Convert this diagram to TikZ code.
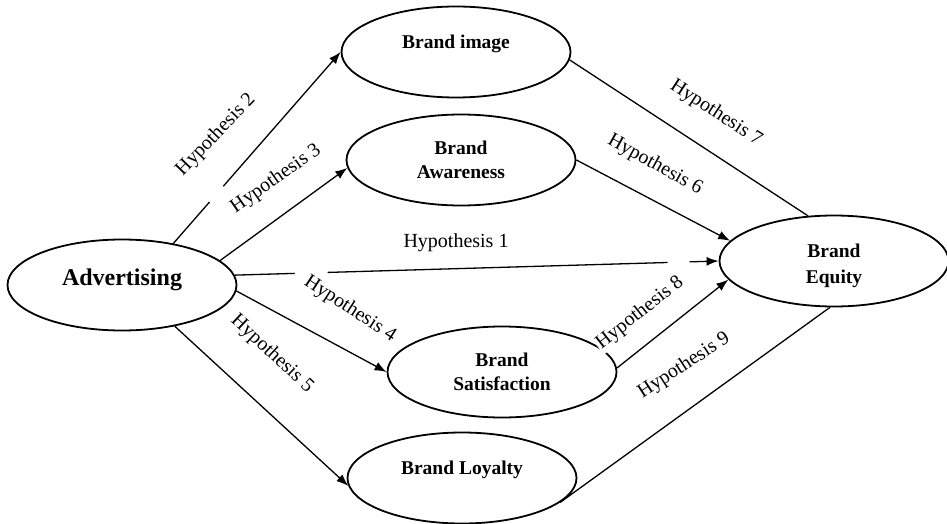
\documentclass[tikz,border=0pt]{standalone}
\usepackage{fontspec}
\setmainfont{Liberation Serif}
\usepackage{tikz}
\usetikzlibrary{shapes.geometric, arrows.meta}

\tikzset{
  construct/.style={ellipse, draw, line width=1.8pt, minimum width=229pt,
    minimum height=91pt, inner sep=0pt, align=center,
    font=\bfseries\fontsize{19.5}{24}\selectfont},
  raised/.style={text depth=20pt},
  link/.style={line width=1.3pt},
  hyp/.style={font=\fontsize{20}{22}\selectfont, fill=white, inner sep=1.5pt},
}

\begin{document}
\begin{tikzpicture}[x=1pt,y=1pt,>={Latex[length=12pt,width=9pt]}]

\useasboundingbox (0,0) rectangle (947,-524);

% ------------------------------------------------------------
% Constructs
% ------------------------------------------------------------
\node[construct, raised, text depth=15pt, font=\bfseries\fontsize{24}{28}\selectfont]
  (adv) at (122,-285) {Advertising};
\node[construct, raised] (img) at (456,-52) {Brand image};
\node[construct] (aw) at (461,-160) {Brand\\Awareness};
\node[construct, text height=50pt, font=\bfseries\fontsize{19.5}{26}\selectfont]
  (eq) at (834,-261) {Brand\\Equity};
\node[construct] (sat) at (502,-372) {Brand\\Satisfaction};
\node[construct, raised] (loy) at (462,-478) {Brand Loyalty};

% ------------------------------------------------------------
% Paths from advertising
% ------------------------------------------------------------
\draw[link, ->, dash pattern=on 60pt off 33pt on 340pt off 22pt on 100pt]
  (adv.5) -- (eq.west);
\draw[link, ->, dash pattern=on 55pt off 21pt on 300pt] (adv.39) -- (img.west);
\draw[link, ->] (adv.14) -- (aw.184);
\draw[link, ->] (adv.-3) -- (sat.west);
\draw[link, ->] (adv.-38) -- (loy.184);

% ------------------------------------------------------------
% Paths into brand equity
% ------------------------------------------------------------
\draw[link, ->] (aw.east) -- (eq.169);
\draw[link] (img.-4) -- (eq.120);
\draw[link, ->] (sat.2) -- (eq.190);
\draw[link] (eq.-95) -- (loy.-14);

% Hypothesis labels
\node[hyp] (h1) at (456,-243) {Hypothesis 1};
\node[hyp, rotate=46] (h2) at (216,-135) {Hypothesis 2};
\node[hyp, rotate=35] (h3) at (276,-179) {Hypothesis 3};
\node[hyp, rotate=-33] (h4) at (350,-309) {Hypothesis 4};
\node[hyp, rotate=-43] (h5) at (272,-354) {Hypothesis 5};
\node[hyp, rotate=-29] (h6) at (655,-165) {Hypothesis 6};
\node[hyp, rotate=-33] (h7) at (716,-113) {Hypothesis 7};
\node[hyp, rotate=38] (h8) at (640,-313) {Hypothesis 8};
\node[hyp, rotate=33] (h9) at (684,-366) {Hypothesis 9};

\end{tikzpicture}
\end{document}
